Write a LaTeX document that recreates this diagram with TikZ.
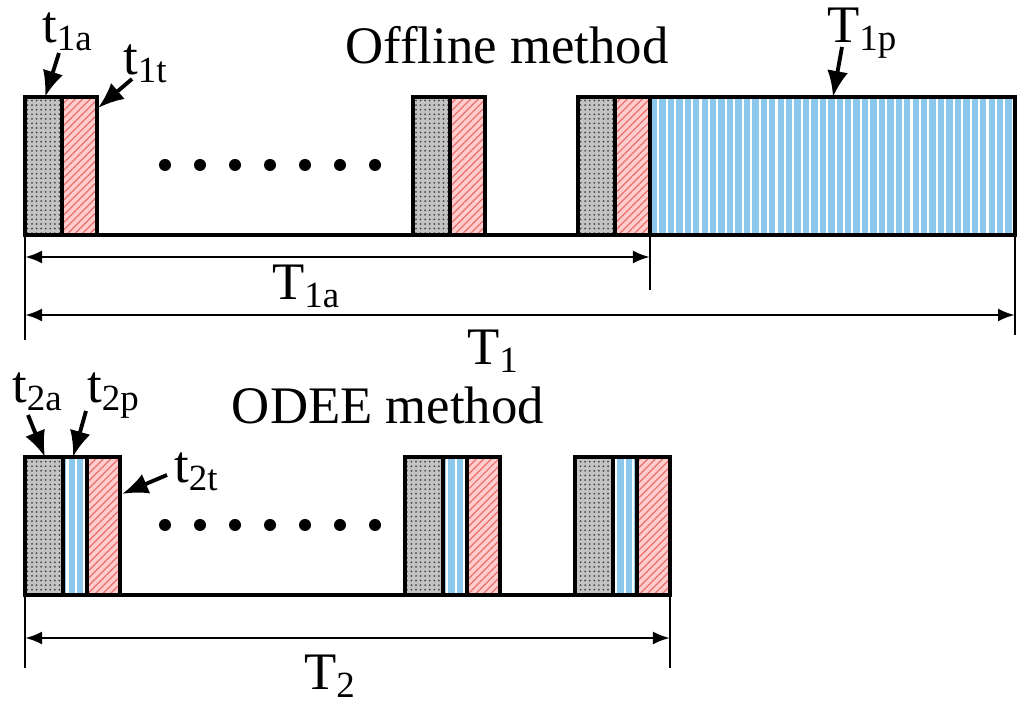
\documentclass[tikz,border=0pt]{standalone}
\usepackage{fontspec}
\setmainfont{Liberation Serif}
\usetikzlibrary{patterns.meta,arrows.meta}

\definecolor{skyb}{RGB}{140,200,235}
\definecolor{pinkf}{RGB}{255,205,205}
\definecolor{pinkl}{RGB}{235,110,110}
\definecolor{grayf}{RGB}{195,195,195}

\begin{document}
\begin{tikzpicture}[x=0.01cm, y=-0.01cm,
	acq/.style = {draw, line width=0.9pt, preaction={fill=grayf}, pattern={Dots[distance=1.3pt, radius=0.28pt]}, pattern color=black!75},
	trn/.style = {draw, line width=0.9pt, preaction={fill=pinkf}, pattern={Lines[angle=45, distance=1.5pt, line width=0.35pt]}, pattern color=pinkl},
	prc/.style = {draw, line width=0.9pt, preaction={fill=skyb}, pattern={Lines[angle=90, distance=2.4pt, line width=0.6pt]}, pattern color=white},
	lbl/.style = {font=\fontsize{15}{18}\selectfont, inner sep=1pt},
	ptr/.style = {-{Latex[length=2.6mm, width=2.1mm]}, line width=1.1pt},
	span/.style = {{Latex[length=1.7mm, width=1.3mm]}-{Latex[length=1.7mm, width=1.3mm]}, line width=0.8pt},
	tick/.style = {line width=0.8pt}]
	\useasboundingbox (0,0) rectangle (1024,704);

	% offline method
	\foreach \x in {25,413,578} {
		\draw[acq] (\x,97) rectangle ++(37,138);
		\draw[trn] (\x+37,97) rectangle ++(35,138);
	}
	\draw[prc] (650,97) rectangle (1015,235);
	\draw[line width=0.9pt] (25,235) -- (1015,235);
	\foreach \i in {0,...,6}
		\fill (165+35*\i,165) circle (0.06cm);

	\coordinate (a1) at (45,97);
	\coordinate (b1) at (98,108);
	\coordinate (p1) at (833,97);
	\coordinate (s1) at (25,97);
	\coordinate (e1a) at (650,235);
	\coordinate (e1) at (1015,235);

	\node[lbl] (off) at (507,45) {Offline method};
	\node[lbl, anchor=base west] (t1a) at (38,43) {t\textsubscript{1a}};
	\node[lbl, anchor=base west] (t1t) at (119,75) {t\textsubscript{1t}};
	\node[lbl, anchor=base west] (T1p) at (823,43) {T\textsubscript{1p}};
	\draw[ptr] (t1a.base west) ++(21,10) -- (a1);
	\draw[ptr] (t1t.base west) ++(13,4) -- (b1);
	\draw[ptr] (T1p.base west) ++(19,4) -- (p1);

	\draw[tick] (s1) -- (25,340);
	\draw[tick] (e1a) -- (650,290);
	\draw[tick] (e1) -- (1015,335);
	\draw[span] (25,257) -- (650,257);
	\draw[span] (25,315) -- (1015,315);
	\node[lbl, anchor=base west] (T1al) at (268,300) {T\textsubscript{1a}};
	\node[lbl, anchor=base west] (T1l) at (463,365) {T\textsubscript{1}};

	% ODEE method
	\foreach \x in {25,405,575} {
		\draw[acq] (\x,457) rectangle ++(38,138);
		\draw[prc, line width=1.4pt] (\x+38,457) rectangle ++(24,138);
		\draw[trn] (\x+62,457) rectangle ++(33,138);
	}
	\draw[line width=0.9pt] (25,595) -- (670,595);
	\foreach \i in {0,...,6}
		\fill (165+35*\i,525) circle (0.06cm);

	\coordinate (a2) at (45,457);
	\coordinate (p2) at (73,457);
	\coordinate (b2) at (122,494);

	\node[lbl] (odee) at (388,405) {ODEE method};
	\node[lbl, anchor=base west] (t2a) at (8,403) {t\textsubscript{2a}};
	\node[lbl, anchor=base west] (t2p) at (83,403) {t\textsubscript{2p}};
	\node[lbl, anchor=base west] (t2t) at (170,483) {t\textsubscript{2t}};
	\draw[ptr] (t2a.base west) ++(20,12) -- (a2);
	\draw[ptr] (t2p.base west) ++(3,8) -- (p2);
	\draw[ptr] (t2t.base west) ++(-3,-8) -- (b2);

	\draw[tick] (25,457) -- (25,668);
	\draw[tick] (670,595) -- (670,668);
	\draw[span] (25,638) -- (670,638);
	\node[lbl, anchor=base west] (T2l) at (300,690) {T\textsubscript{2}};
\end{tikzpicture}
\end{document}
